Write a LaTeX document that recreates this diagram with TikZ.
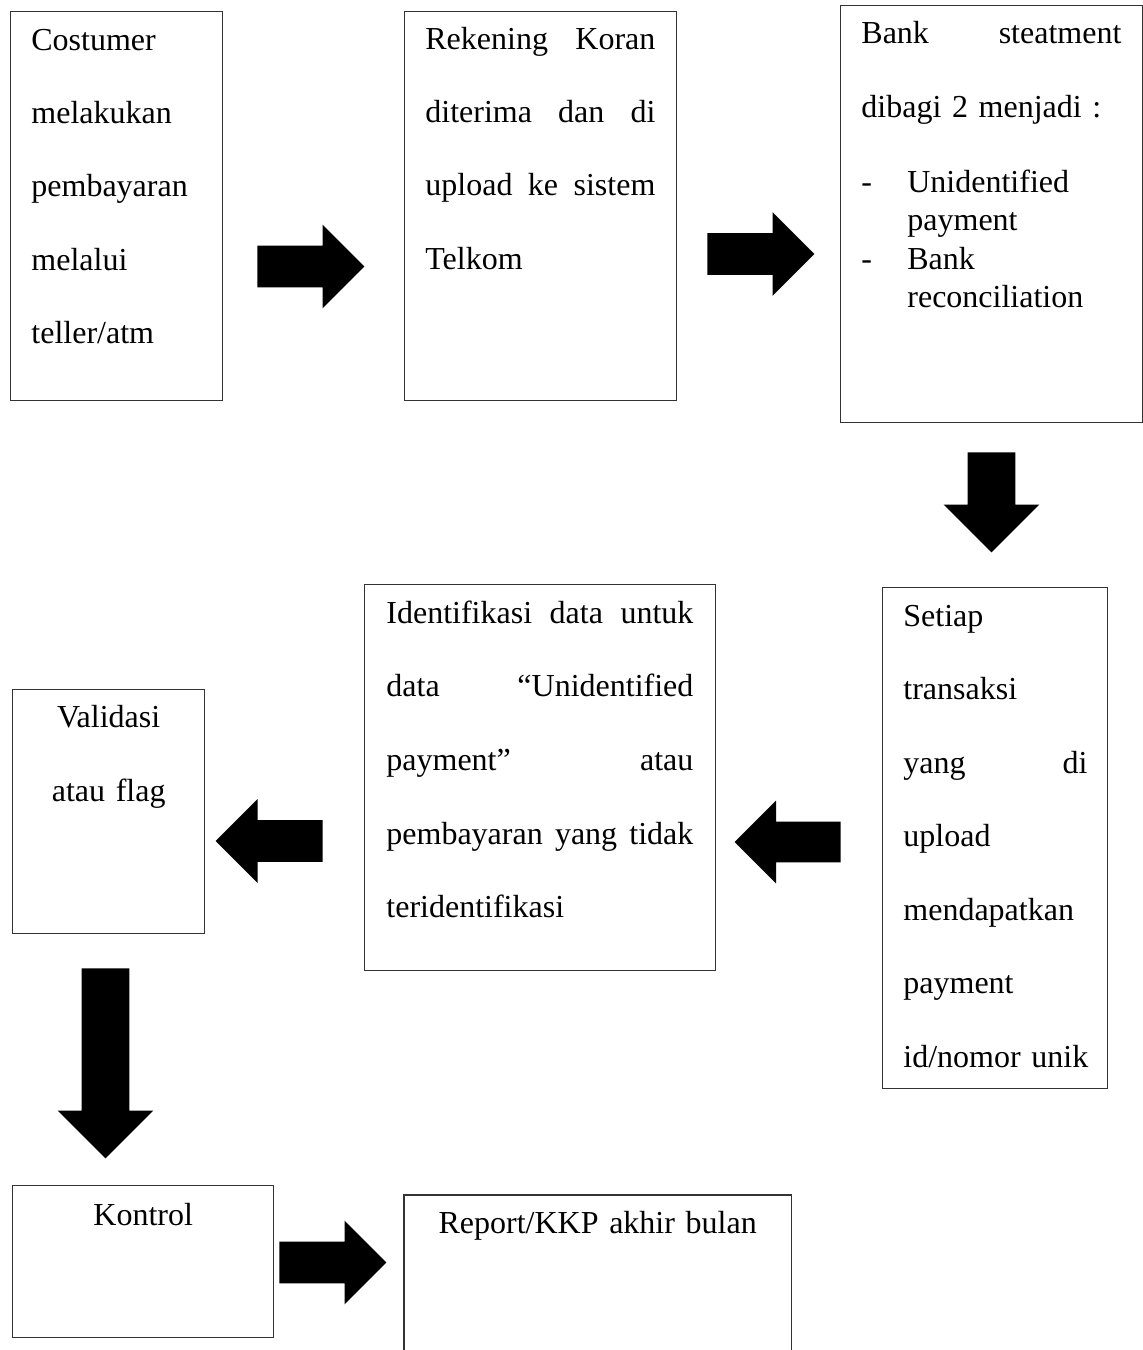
\documentclass[tikz,border=0pt]{standalone}
\usepackage{fontspec}
\setmainfont{Liberation Serif}
\usetikzlibrary{shapes.arrows}

\begin{document}
\begin{tikzpicture}[
    x=0.5pt, y=-0.5pt, % one unit is one pixel of the page, y runs down
    box/.style={
        draw=black!80, % thin dark border
        line width=0.7pt,
        anchor=north west,
        inner sep=0pt
    },
    txt/.style={
        anchor=base west, % first baseline
        inner sep=0pt,
        align=left,
        font=\fontsize{16pt}{36.7pt}\selectfont
    },
    ctxt/.style={
        anchor=base,
        inner sep=0pt,
        align=center,
        font=\fontsize{16pt}{37pt}\selectfont
    },
    blockarrow/.style={
        single arrow,
        fill=black,
        anchor=tail, % placed by its tail
        inner xsep=0pt,
        inner ysep=10.25pt, % half the shaft
        single arrow head extend=10.5pt,
        minimum height=53.5pt % full length, tip included
    }
]
\useasboundingbox (0,0) rectangle (1143,1350);

% top row
\node[box, minimum width=106pt, minimum height=194.5pt] (b1) at (10,11) {};
\node[txt, text width=90pt] (t1) at ([shift={(21,39)}]b1.north west)
    {Costumer\\ melakukan\\ pembayaran\\ melalui\\ teller/atm};

\node[box, minimum width=136pt, minimum height=194.5pt] (b2) at (404,11) {};
\node[txt, text width=115pt] (t2) at ([shift={(21,38)}]b2.north west)
    {Rekening\hfill Koran\\ diterima\hfill dan\hfill di\\ upload\hfill ke\hfill sistem\\ Telkom};

\node[box, minimum width=151pt, minimum height=208.5pt] (b3) at (840,5) {};
\node[txt, text width=130pt, font=\fontsize{16pt}{19.25pt}\selectfont] (t3) at ([shift={(21,38)}]b3.north west)
    {Bank\hfill steatment\\[18pt] dibagi 2 menjadi :\\[18pt]
     \makebox[23pt][l]{-}Unidentified\\ \hspace*{23pt}payment\\
     \makebox[23pt][l]{-}Bank\\ \hspace*{23pt}reconciliation};

% middle row
\node[box, minimum width=112.5pt, minimum height=250.5pt] (b4) at (882,587) {};
\node[txt, text width=92pt, font=\fontsize{16pt}{36.75pt}\selectfont] (t4) at ([shift={(21,39)}]b4.north west)
    {Setiap\\ transaksi\\ yang\hfill di\\ upload\\ mendapatkan\\ payment\\ \mbox{id/nomor unik}};

\node[box, minimum width=175.5pt, minimum height=193pt] (b5) at (364,584) {};
\node[txt, text width=153.5pt, font=\fontsize{16pt}{36.85pt}\selectfont] (t5) at ([shift={(22,39)}]b5.north west)
    {Identifikasi\hfill data\hfill untuk\\ data\hfill “Unidentified\\ payment”\hfill atau\\
     pembayaran\hfill yang\hfill tidak\\ teridentifikasi};

\node[box, minimum width=96pt, minimum height=122pt] (b6) at (12,689) {};
\node[ctxt, text width=96pt] (t6) at ([shift={(0,38)}]b6.north) {Validasi\\ atau flag};

% bottom row
\node[box, minimum width=130.5pt, minimum height=76pt] (b7) at (12,1185) {};
\node[ctxt, text width=130.5pt] (t7) at ([shift={(0,40)}]b7.north) {Kontrol};

\node[box, draw=none, minimum width=193pt, minimum height=77.5pt] (b8) at (404,1195) {};
\draw[black!80, line width=0.7pt] (b8.south west) |- (b8.north east) -- (b8.south east);
\node[ctxt, text width=193pt] (t8) at ([shift={(0,38)}]b8.north) {Report/KKP akhir bulan};

% block arrows
\node[blockarrow] (a1) at (257,266.5) {};
\node[blockarrow] (a2) at (707,254) {};
\node[blockarrow, rotate=-90, inner ysep=11.75pt, single arrow head extend=12pt,
      minimum height=50pt] (a3) at (991.5,452) {};
\node[blockarrow, rotate=180, inner ysep=10pt, minimum height=53pt] (a4) at (841,842) {};
\node[blockarrow, rotate=180] (a5) at (323,841) {};
\node[blockarrow, rotate=-90, inner ysep=11.75pt, single arrow head extend=12pt,
      minimum height=95pt] (a6) at (105.5,968) {};
\node[blockarrow] (a7) at (279,1262.5) {};
\end{tikzpicture}
\end{document}
